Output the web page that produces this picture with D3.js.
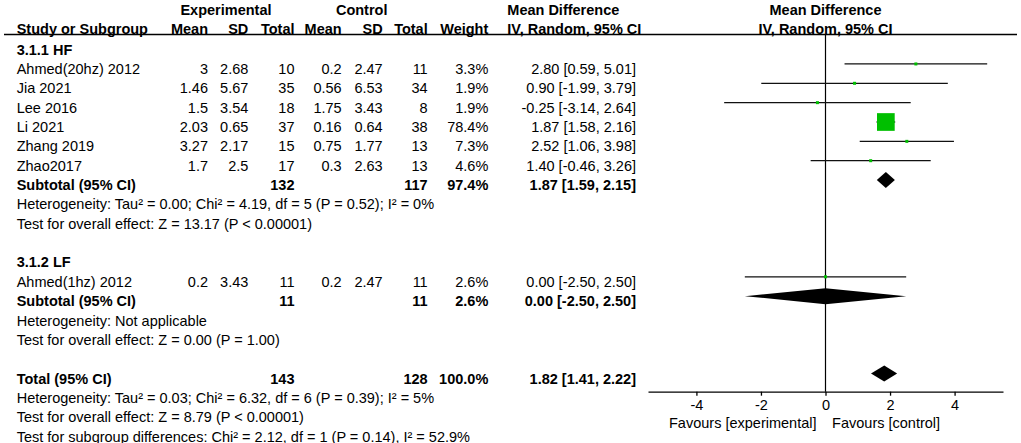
<!DOCTYPE html>
<html><head><meta charset="utf-8">
<script src="https://cdn.jsdelivr.net/npm/d3@7"></script>
<style>
html,body{margin:0;padding:0;background:#fff;overflow:hidden}
svg text{font-family:"Liberation Sans",Arial,sans-serif;font-size:14.5px;fill:#000}
</style></head>
<body>
<svg id="c" width="1021" height="443"></svg>
<script>
// ---- data ----
const studies   = ["Ahmed(20hz) 2012","Jia 2021","Lee 2016","Li 2021","Zhang 2019","Zhao2017","Ahmed(1hz) 2012"];
const groups    = ["HF","HF","HF","HF","HF","HF","LF"];
const expMean   = [3, 1.46, 1.5, 2.03, 3.27, 1.7, 0.2];
const expSD     = [2.68, 5.67, 3.54, 0.65, 2.17, 2.5, 3.43];
const expN      = [10, 35, 18, 37, 15, 17, 11];
const ctrlMean  = [0.2, 0.56, 1.75, 0.16, 0.75, 0.3, 0.2];
const ctrlSD    = [2.47, 6.53, 3.43, 0.64, 1.77, 2.63, 2.47];
const ctrlN     = [11, 34, 8, 38, 13, 13, 11];
const weights   = [3.3, 1.9, 1.9, 78.4, 7.3, 4.6, 2.6];
const md        = [2.80, 0.90, -0.25, 1.87, 2.52, 1.40, 0.00];
const ciLow     = [0.59, -1.99, -3.14, 1.58, 1.06, -0.46, -2.50];
const ciHigh    = [5.01, 3.79, 2.64, 2.16, 3.98, 3.26, 2.50];

const subgroupKeys   = ["HF","LF"];
const subgroupTitles = ["3.1.1 HF","3.1.2 LF"];
const subExpN   = [132, 11];
const subCtrlN  = [117, 11];
const subWeight = [97.4, 2.6];
const subMD     = [1.87, 0.00];
const subLow    = [1.59, -2.50];
const subHigh   = [2.15, 2.50];
const subHet    = ["Heterogeneity: Tau² = 0.00; Chi² = 4.19, df = 5 (P = 0.52); I² = 0%","Heterogeneity: Not applicable"];
const subTest   = ["Test for overall effect: Z = 13.17 (P < 0.00001)","Test for overall effect: Z = 0.00 (P = 1.00)"];

const totExpN = 143, totCtrlN = 128, totWeight = 100.0, totMD = 1.82, totLow = 1.41, totHigh = 2.22;
const totLines = ["Heterogeneity: Tau² = 0.03; Chi² = 6.32, df = 6 (P = 0.39); I² = 5%",
                  "Test for overall effect: Z = 8.79 (P < 0.00001)",
                  "Test for subgroup differences: Chi² = 2.12, df = 1 (P = 0.14), I² = 52.9%"];

const axisTicks = [-4,-2,0,2,4];
const axisDomain = [-5.5, 5.5];
const favLeft = "Favours [experimental]", favRight = "Favours [control]";

// ---- layout ----
const svg = d3.select("#c");
const rowY = d3.scaleLinear().domain([0,1]).range([44.6, 63.95]); // mark centre of row k
const base = k => rowY(k) + 10;
const x = d3.scaleLinear().domain(axisDomain).range([648, 1003]);
const sizeScale = d3.scaleLinear().domain([0, 78.4]).range([0, 17.7]);
const col = {label:16.7, eM:208, eS:248.3, eN:294.5, cM:341.7, cS:382.7, cN:427.7, w:488.3, eff:636, effHead:507.3};
const fmt2 = d3.format(".2f");
const ciText = (m,l,h) => `${fmt2(m)} [${fmt2(l)}, ${fmt2(h)}]`.replace(/−/g,"-");

function txt(xp, y, s, anchor, bold){
  svg.append("text").attr("x",xp).attr("y",y).attr("text-anchor",anchor||"start")
    .attr("font-weight",bold?"bold":null).text(s);
}

// header
const h1 = 15, h2 = 33.5;
txt(226, h1, "Experimental", "middle", true);
txt(361.7, h1, "Control", "middle", true);
txt(col.effHead, h1, "Mean Difference", "start", true);
txt(x(0), h1, "Mean Difference", "middle", true);
txt(col.label, h2, "Study or Subgroup", "start", true);
txt(col.eM, h2, "Mean", "end", true);
txt(col.eS, h2, "SD", "end", true);
txt(col.eN, h2, "Total", "end", true);
txt(col.cM, h2, "Mean", "end", true);
txt(col.cS, h2, "SD", "end", true);
txt(col.cN, h2, "Total", "end", true);
txt(col.w, h2, "Weight", "end", true);
txt(col.effHead, h2, "IV, Random, 95% CI", "start", true);
txt(x(0), h2, "IV, Random, 95% CI", "middle", true);
svg.append("line").attr("x1",4).attr("x2",1017).attr("y1",34.5).attr("y2",34.5)
  .attr("stroke","#000").attr("stroke-width",1.3);

// zero line
svg.append("line").attr("x1",x(0)).attr("x2",x(0)).attr("y1",34.5).attr("y2",391.7)
  .attr("stroke","#000").attr("stroke-width",1.2);

function diamond(m,l,h,yc){
  svg.append("path").attr("d",`M${x(l)},${yc}L${x(m)},${yc-8}L${x(h)},${yc}L${x(m)},${yc+8}Z`).attr("fill","#000");
}

let k = 0;
subgroupKeys.forEach((g, gi) => {
  txt(col.label, base(k), subgroupTitles[gi], "start", true); k++;
  studies.forEach((s, i) => {
    if (groups[i] !== g) return;
    const b = base(k), yc = rowY(k);
    txt(col.label, b, s);
    txt(col.eM, b, String(expMean[i]), "end");
    txt(col.eS, b, String(expSD[i]), "end");
    txt(col.eN, b, String(expN[i]), "end");
    txt(col.cM, b, String(ctrlMean[i]), "end");
    txt(col.cS, b, String(ctrlSD[i]), "end");
    txt(col.cN, b, String(ctrlN[i]), "end");
    txt(col.w, b, weights[i].toFixed(1)+"%", "end");
    txt(col.eff, b, ciText(md[i], ciLow[i], ciHigh[i]), "end");
    svg.append("line").attr("x1",x(ciLow[i])).attr("x2",x(ciHigh[i])).attr("y1",yc).attr("y2",yc)
      .attr("stroke","#111").attr("stroke-width",1.3);
    const sz = Math.max(3, sizeScale(weights[i]));
    svg.append("rect").attr("x",x(md[i])-sz/2).attr("y",yc-sz/2).attr("width",sz).attr("height",sz)
      .attr("fill","#00bf00");
    k++;
  });
  const b = base(k);
  txt(col.label, b, "Subtotal (95% CI)", "start", true);
  txt(col.eN, b, String(subExpN[gi]), "end", true);
  txt(col.cN, b, String(subCtrlN[gi]), "end", true);
  txt(col.w, b, subWeight[gi].toFixed(1)+"%", "end", true);
  txt(col.eff, b, ciText(subMD[gi], subLow[gi], subHigh[gi]), "end", true);
  diamond(subMD[gi], subLow[gi], subHigh[gi], rowY(k));
  k++;
  txt(col.label, base(k), subHet[gi]); k++;
  txt(col.label, base(k), subTest[gi]); k++;
  k++; // blank row
});
// total
{
  const b = base(k);
  txt(col.label, b, "Total (95% CI)", "start", true);
  txt(col.eN, b, String(totExpN), "end", true);
  txt(col.cN, b, String(totCtrlN), "end", true);
  txt(col.w, b, totWeight.toFixed(1)+"%", "end", true);
  txt(col.eff, b, ciText(totMD, totLow, totHigh), "end", true);
  diamond(totMD, totLow, totHigh, rowY(k));
  k++;
  totLines.forEach(s => { txt(col.label, base(k), s); k++; });
}

// axis
const ax = svg.append("g").attr("transform","translate(0,391.7)")
  .call(d3.axisBottom(x).tickValues(axisTicks).tickSize(4).tickSizeOuter(0).tickPadding(4).tickFormat(d => String(d)));
ax.select(".domain").attr("stroke","#000").attr("stroke-width",1.3);
ax.selectAll(".tick line").attr("stroke","#000").attr("stroke-width",1.3);
ax.selectAll(".tick text").attr("font-size",null).attr("font-family",null).attr("fill","#000");
ax.attr("font-size",null).attr("font-family",null);

txt(x(0)-9, 428, favLeft, "end");
txt(x(0)+6.6, 428, favRight, "start");
</script>
</body></html>
